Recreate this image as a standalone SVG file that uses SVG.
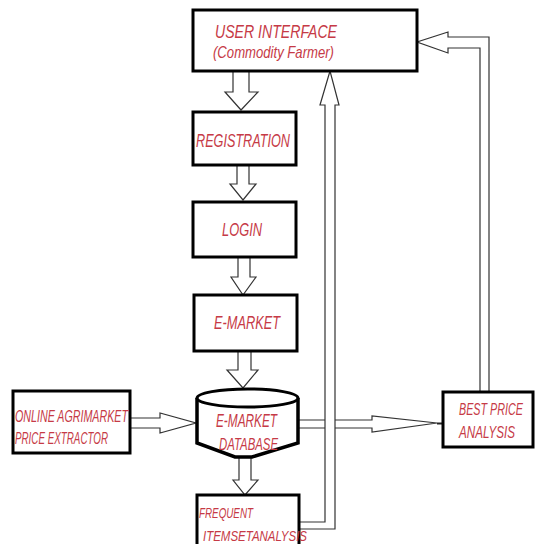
<svg xmlns="http://www.w3.org/2000/svg" width="536" height="544" viewBox="0 0 536 544">
<style>
.box{fill:#fff;stroke:#000;stroke-width:3}
.arr{fill:#fff;stroke:#333;stroke-width:1.2;stroke-linejoin:miter}
.t{font-family:"Liberation Sans",Arial,sans-serif;font-style:italic;fill:#c63a46}
</style>
<rect width="536" height="544" fill="#fff"/>
<g id="connectors">
<path class="arr" d="M233,71 V92 H225 L241,110 L258,92 H249 V71 Z"/>
<path class="arr" d="M237,165 V184 H230 L243,200 L256,184 H249 V165 Z"/>
<path class="arr" d="M238,257 V277 H231 L243,295 L256,277 H250 V257 Z"/>
<path class="arr" d="M238,351 V370 H227 L243,388 L258,370 H251 V351 Z"/>
<path class="arr" d="M239,457 V480 H233 L245,495 L258,480 H251 V457 Z"/>
<path class="arr" d="M130,418 H160 V413 L196,423 L160,433 V428 H130 Z"/>
<path class="arr" d="M298,420 H372 V416 L437,423 L372,432 V428 H298 Z"/>
<line x1="437" y1="423.5" x2="443" y2="423.5" stroke="#222" stroke-width="2"/>
<path class="arr" d="M299,529 H335 V105 H339 L330,71 L320,105 H325 V522 H299 Z"/>
<path class="arr" d="M489,392 V37 H448 V32 L417,42 L448,53 V48 H480 V392 Z"/>
</g>
<g id="user-interface">
<rect class="box" x="193" y="10" width="224" height="61"/>
<text class="t" x="215" y="38" font-size="18" textLength="122" lengthAdjust="spacingAndGlyphs">USER INTERFACE</text>
<text class="t" x="213" y="58" font-size="17" textLength="121" lengthAdjust="spacingAndGlyphs">(Commodity Farmer)</text>
</g>
<g id="registration">
<rect class="box" x="193" y="112" width="103" height="53"/>
<text class="t" x="196" y="147" font-size="19" textLength="94" lengthAdjust="spacingAndGlyphs">REGISTRATION</text>
</g>
<g id="login">
<rect class="box" x="193" y="202" width="103" height="55"/>
<text class="t" x="222" y="236" font-size="18" textLength="40" lengthAdjust="spacingAndGlyphs">LOGIN</text>
</g>
<g id="e-market">
<rect class="box" x="194" y="295" width="103" height="56"/>
<text class="t" x="214" y="329" font-size="18" textLength="66" lengthAdjust="spacingAndGlyphs">E-MARKET</text>
</g>
<g id="online-agrimarket">
<rect class="box" x="13" y="391" width="117" height="62"/>
<text class="t" x="15" y="422" font-size="17" textLength="113" lengthAdjust="spacingAndGlyphs">ONLINE AGRIMARKET</text>
<text class="t" x="15" y="444" font-size="17" textLength="93" lengthAdjust="spacingAndGlyphs">PRICE EXTRACTOR</text>
</g>
<g id="database">
<path d="M197,398 V443 L235,457 H252 L298,443 V398" fill="#fff" stroke="#000" stroke-width="3.5" stroke-linejoin="miter"/>
<ellipse cx="247.5" cy="398" rx="50.5" ry="9" fill="#fff" stroke="#000" stroke-width="3"/>
<text class="t" x="216" y="427" font-size="18" textLength="61" lengthAdjust="spacingAndGlyphs">E-MARKET</text>
<text class="t" x="219" y="450" font-size="17" textLength="59" lengthAdjust="spacingAndGlyphs">DATABASE</text>
</g>
<g id="best-price">
<rect class="box" x="443" y="392" width="90" height="55"/>
<text class="t" transform="translate(459,415) scale(0.64,1)" x="0" y="0" font-size="17" textLength="100" lengthAdjust="spacingAndGlyphs">BEST PRICE</text>
<text class="t" transform="translate(459,438) scale(0.67,1)" x="0" y="0" font-size="17" textLength="83.5" lengthAdjust="spacingAndGlyphs">ANALYSIS</text>
</g>
<g id="frequent-itemset">
<rect class="box" x="197" y="495" width="102" height="55"/>
<text class="t" x="199" y="518" font-size="15" textLength="54" lengthAdjust="spacingAndGlyphs">FREQUENT</text>
<text class="t" x="203" y="541" font-size="15" textLength="104" lengthAdjust="spacingAndGlyphs">ITEMSETANALYSIS</text>
</g>
</svg>
